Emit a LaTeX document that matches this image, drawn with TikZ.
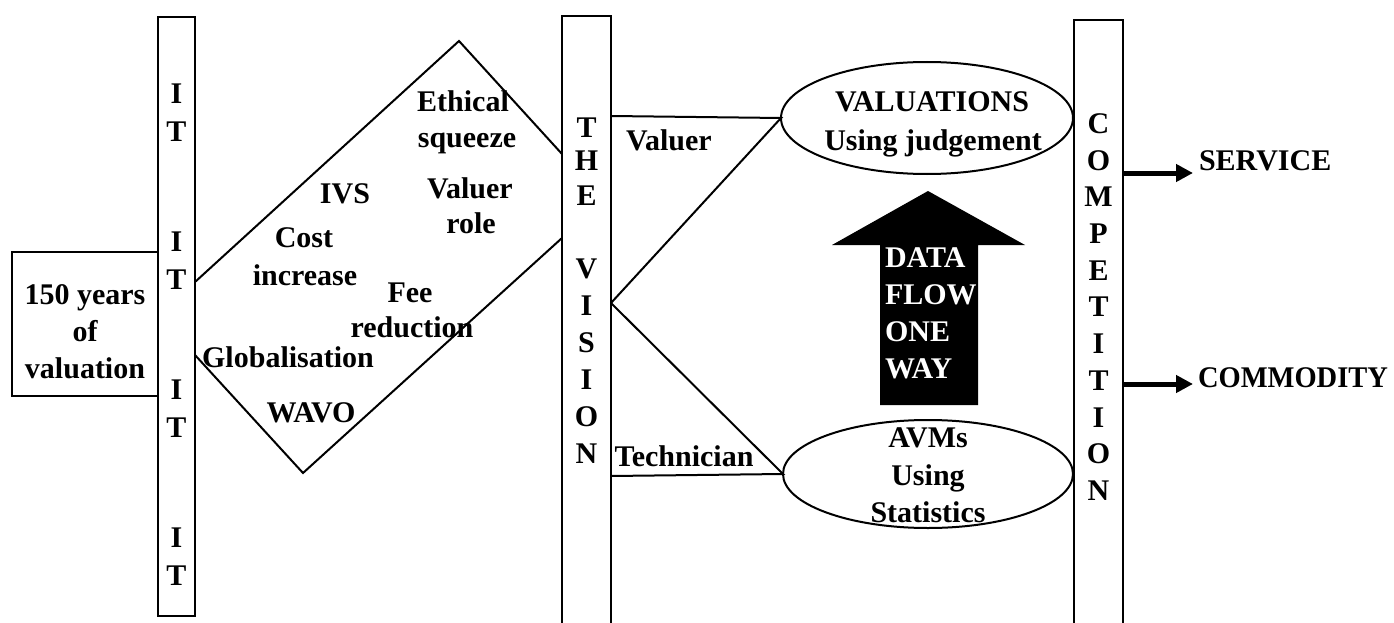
\documentclass[tikz,border=0pt]{standalone}
\usepackage{fontspec}
\setmainfont{Liberation Serif}
\usetikzlibrary{shapes.geometric,arrows.meta}
\begin{document}
\begin{tikzpicture}[x=1pt,y=-1pt,
  txt/.style={font=\fontsize{30}{37}\selectfont\bfseries, inner sep=0pt, outer sep=0pt},
  ln/.style={line width=2pt},
  bar/.style={draw, line width=2pt, rectangle, inner sep=0pt, outer sep=0pt, anchor=north west},
  ell/.style={draw, ellipse, line width=2pt, inner sep=0pt, outer sep=0pt},
  outarrow/.style={line width=5pt, -{Triangle[length=17pt,width=17pt]}}
]
\useasboundingbox (0,0) rectangle (1394,623);

% bars and box
\node[bar, minimum width=37pt, minimum height=599pt] (itbar) at (158,17) {};
\node[bar, minimum width=146pt, minimum height=144pt] (years) at (12,252) {};
\node[bar, minimum width=49pt, minimum height=630pt] (vision) at (562,16) {};
\node[bar, minimum width=49pt, minimum height=630pt] (comp) at (1074,20) {};

% diamond
\coordinate (dA) at (itbar.east |- 0,282);
\coordinate (dTop) at (459,41);
\coordinate (dR1) at (vision.west |- 0,154);
\coordinate (dB1) at (itbar.east |- 0,355);
\coordinate (dBot) at (303,473);
\coordinate (dR2) at (vision.west |- 0,238);
\draw[ln] (dA) -- (dTop) -- (dR1);
\draw[ln] (dB1) -- (dBot) -- (dR2);

% ellipses
\node[ell, minimum width=292pt, minimum height=112pt] (val) at (927,118) {};
\node[ell, minimum width=290pt, minimum height=108pt] (avm) at (928,474) {};

% triangles
\coordinate (vTop) at (vision.east |- 0,116);
\coordinate (vMid) at (vision.east |- 0,303);
\coordinate (vBot) at (vision.east |- 0,476);
\draw[ln] (vTop) -- (val.west) -- (vMid);
\draw[ln] (vMid) -- (avm.west) -- (vBot);

% data flow arrow
\fill[black] (928,191) -- (1025,245) -- (978,245) -- (978,405) -- (880,405) -- (880,245) -- (832,245) -- cycle;
\node[txt, anchor=base west, text=white] (df1) at (885,267) {DATA};
\node[txt, anchor=base west, text=white] (df2) at (885,304) {FLOW};
\node[txt, anchor=base west, text=white] (df3) at (885,341) {ONE};
\node[txt, anchor=base west, text=white] (df4) at (885,378) {WAY};

% IT letters
\foreach \c/\y [count=\i] in {I/104,T/142,I/251,T/289,I/399,T/437,I/547,T/585}
  \node[txt, anchor=base] (it\i) at (176.5,\y) {\c};
% THE VISION letters
\foreach \c/\y [count=\i] in {T/137,H/170,E/205,V/278,I/315,S/352,I/389,O/426,N/463}
  \node[txt, anchor=base] (vi\i) at (586.5,\y) {\c};
% COMPETITION letters
\foreach \c/\y [count=\i] in {C/133,O/170,M/206,P/243,E/280,T/316,I/353,T/390,I/427,O/463,N/500}
  \node[txt, anchor=base] (co\i) at (1098.5,\y) {\c};

% 150 years
\node[txt, anchor=base] (y1) at (85,304) {150 years};
\node[txt, anchor=base] (y2) at (85,341) {of};
\node[txt, anchor=base] (y3) at (85,378) {valuation};

% diamond texts
\node[txt, anchor=base] (t1) at (463,112) {Ethical};
\node[txt, anchor=base] (t2) at (467,147) {squeeze};
\node[txt, anchor=base] (t3) at (470,198) {Valuer};
\node[txt, anchor=base] (t4) at (471,233) {role};
\node[txt, anchor=base] (t5) at (345,203) {IVS};
\node[txt, anchor=base] (t6) at (304,247) {Cost};
\node[txt, anchor=base] (t7) at (305,285) {increase};
\node[txt, anchor=base] (t8) at (410,302) {Fee};
\node[txt, anchor=base] (t9) at (412,337) {reduction};
\node[txt, anchor=base] (t10) at (288,367) {Globalisation};
\node[txt, anchor=base] (t11) at (311,422) {WAVO};

% triangle labels
\node[txt, anchor=base] (valuer) at (669,150) {Valuer};
\node[txt, anchor=base] (tech) at (684,466) {Technician};

% ellipse texts
\node[txt, anchor=base] (e1) at (932,112) {VALUATIONS};
\node[txt, anchor=base] (e2) at (933,150) {Using judgement};
\node[txt, anchor=base] (e3) at (928,447) {AVMs};
\node[txt, anchor=base] (e4) at (928,485) {Using};
\node[txt, anchor=base] (e5) at (928,522) {Statistics};

% outputs
\node[txt, anchor=base west] (service) at (1199,170) {SERVICE};
\node[txt, anchor=base west] (commodity) at (1198,387) {\scalebox{0.95}[1]{COMMODITY}};
\coordinate (sEnd) at (1193,173);
\coordinate (cEnd) at (1193,384);
\draw[outarrow] (comp.east |- sEnd) -- (sEnd);
\draw[outarrow] (comp.east |- cEnd) -- (cEnd);
\end{tikzpicture}
\end{document}
